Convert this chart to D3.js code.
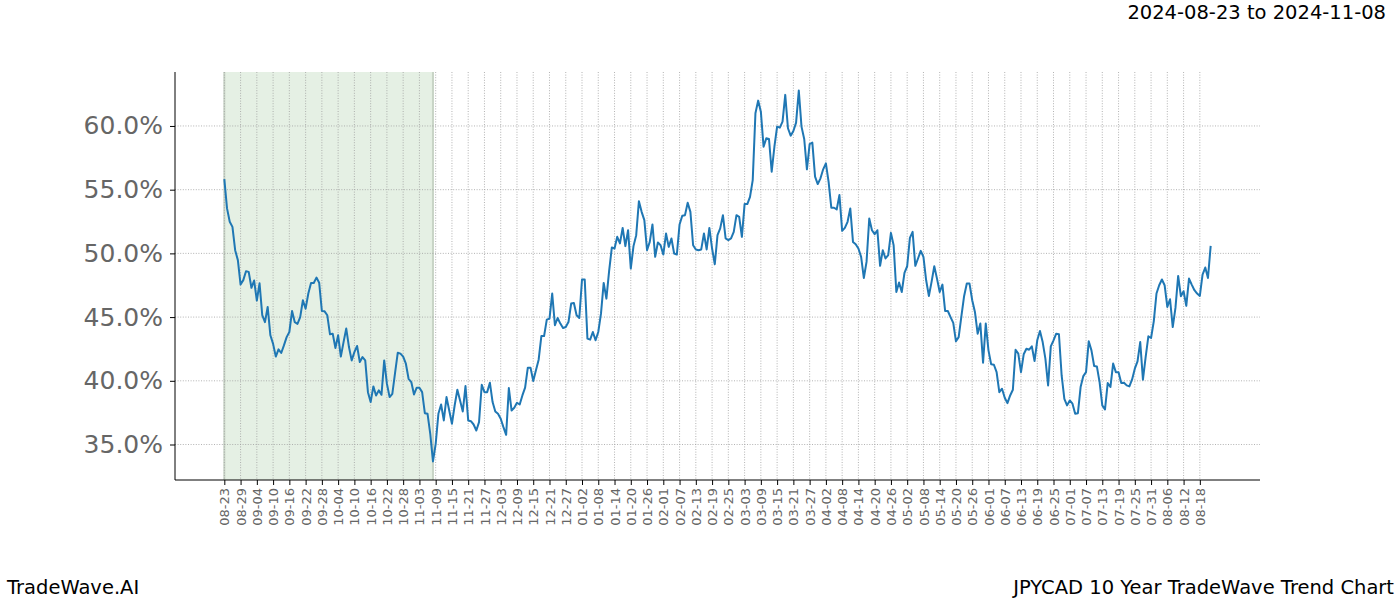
<!DOCTYPE html>
<html>
<head>
<meta charset="utf-8">
<script src="https://cdn.jsdelivr.net/npm/d3@7"></script>
<style>
  body { margin: 0; background: #fff; }
  svg { display: block; font-family: "DejaVu Sans", sans-serif; }
</style>
</head>
<body>
<svg id="chart" width="1400" height="600"></svg>
<script>
// ---- data ----
const startDate = "2024-08-23";
const endDate = "2025-08-22";
const shadeStart = "2024-08-23";
const shadeEnd = "2024-11-08";
const titleText = "2024-08-23 to 2024-11-08";
const brandText = "TradeWave.AI";
const chartName = "JPYCAD 10 Year TradeWave Trend Chart";
const yTicks = [35, 40, 45, 50, 55, 60];
const values = [
55.83,53.53,52.48,52.08,50.25,49.47,47.55,47.9,48.6,48.55,
47.3,47.87,46.3,47.65,45.15,44.6,45.8,43.57,42.9,41.9,
42.47,42.18,42.78,43.43,43.83,45.48,44.6,44.47,45.0,46.32,
45.66,46.85,47.68,47.68,48.1,47.7,45.48,45.45,45.14,43.65,
43.7,42.57,43.57,41.9,43.04,44.1,42.65,41.6,42.25,42.73,
41.47,41.86,41.6,39.11,38.33,39.56,38.85,39.25,38.9,41.6,
39.77,38.72,38.98,40.6,42.2,42.13,41.9,41.34,40.16,39.9,
38.93,39.46,39.46,39.11,37.46,37.41,35.84,33.67,35.05,37.41,
38.14,36.89,38.72,37.67,36.63,38.06,39.3,38.46,37.59,39.59,
36.89,36.83,36.57,36.1,36.76,39.69,39.11,39.11,39.85,38.33,
37.59,37.41,37.02,36.36,35.76,39.43,37.67,37.89,38.28,38.14,
38.85,39.46,41.03,41.03,39.98,40.82,41.66,43.51,43.51,44.8,
44.88,46.85,44.36,44.93,44.49,44.14,44.22,44.61,46.06,46.11,
45.14,44.93,47.95,47.95,43.31,43.23,43.83,43.18,43.83,45.27,
47.68,46.45,48.6,50.46,50.38,51.3,50.78,52.0,50.57,51.82,
48.81,50.57,51.43,54.1,53.26,52.61,50.25,50.9,52.27,49.73,
50.86,50.64,49.91,51.56,50.51,51.17,49.99,49.91,52.27,52.95,
53.0,53.97,53.26,50.64,50.31,50.25,50.31,51.56,50.31,52.0,
50.38,49.15,51.43,51.96,53.0,51.17,51.04,51.17,51.69,53.0,
52.87,51.3,53.87,53.87,54.44,55.75,61.0,61.99,61.12,58.37,
59.03,58.98,56.41,58.37,59.95,59.87,60.34,62.44,59.82,59.24,
59.61,60.26,62.78,59.95,58.98,56.6,58.58,58.69,56.02,55.44,
55.89,56.6,57.07,55.62,53.58,53.58,53.45,54.58,51.77,52.0,
52.48,53.53,50.9,50.72,50.38,49.73,48.07,49.33,52.74,51.82,
51.51,51.82,49.02,50.25,49.6,49.86,51.61,50.64,46.97,47.71,
46.97,48.47,48.99,51.22,51.69,49.02,49.6,50.2,49.73,47.89,
46.66,47.76,48.99,48.02,46.97,47.55,45.48,45.48,45.0,44.54,
43.1,43.43,45.06,46.64,47.63,47.63,46.32,45.4,43.7,44.49,
41.42,44.49,42.39,41.29,41.26,40.68,39.11,39.38,38.67,38.25,
38.85,39.3,42.44,42.13,40.68,42.08,42.52,42.44,42.7,41.55,
43.18,43.91,43.04,41.74,39.64,42.7,43.18,43.7,43.65,40.42,
38.59,38.07,38.46,38.2,37.41,37.46,39.51,40.37,40.68,43.1,
42.39,41.16,41.13,39.9,38.07,37.75,39.82,39.51,41.35,40.68,
40.68,39.82,39.85,39.64,39.56,40.11,40.95,41.53,43.04,40.09,
41.86,43.49,43.36,44.67,46.85,47.5,47.95,47.5,45.8,46.4,
44.22,45.72,48.23,46.64,47.03,45.88,48.02,47.55,47.11,46.85,
46.66,48.34,48.89,48.07,50.59
];

// ---- build ----
const parse = d3.utcParse("%Y-%m-%d");
const t0 = parse(startDate), t1 = parse(endDate);
const dates = d3.utcDay.range(t0, d3.utcDay.offset(t1, 1));
const data = values.map((v, i) => ({ date: dates[i], value: v }));

const svg = d3.select("#chart");
const L = 175, R = 1260, T = 72, B = 480;

// matplotlib-like 5% margins
const span = +t1 - +t0;
const x = d3.scaleUtc()
  .domain([new Date(+t0 - span * 0.05), new Date(+t1 + span * 0.05)])
  .range([L, R]);
const vmin = d3.min(values), vmax = d3.max(values);
const vs = vmax - vmin;
const y = d3.scaleLinear()
  .domain([vmin - vs * 0.05, vmax + vs * 0.05])
  .range([B, T]);

const xTickDates = d3.utcDay.range(t0, d3.utcDay.offset(t1, 1), 1).filter((d, i) => i % 6 === 0);
const fmt = d3.utcFormat("%m-%d");

// shaded band
svg.append("rect")
  .attr("x", x(parse(shadeStart)))
  .attr("y", T)
  .attr("width", x(parse(shadeEnd)) - x(parse(shadeStart)))
  .attr("height", B - T)
  .attr("fill", "#e5f0e4");
[shadeStart, shadeEnd].forEach(s => {
  svg.append("line")
    .attr("x1", x(parse(s))).attr("x2", x(parse(s)))
    .attr("y1", T).attr("y2", B)
    .attr("stroke", "#c8d4c6").attr("stroke-width", 2);
});

// grid
const grid = svg.append("g");
grid.selectAll("line.gx").data(xTickDates).enter().append("line")
  .attr("x1", d => x(d)).attr("x2", d => x(d))
  .attr("y1", T).attr("y2", B)
  .attr("stroke", "#a0a0a0").attr("stroke-width", 0.8)
  .attr("stroke-dasharray", "1,1.6");
grid.selectAll("line.gy").data(yTicks).enter().append("line")
  .attr("x1", L).attr("x2", R)
  .attr("y1", d => y(d)).attr("y2", d => y(d))
  .attr("stroke", "#a0a0a0").attr("stroke-width", 0.8)
  .attr("stroke-dasharray", "1,1.6");

// line
svg.append("path")
  .datum(data)
  .attr("fill", "none")
  .attr("stroke", "#1f77b4")
  .attr("stroke-width", 2)
  .attr("stroke-linejoin", "round")
  .attr("d", d3.line().x(d => x(d.date)).y(d => y(d.value)));

// y axis
const yAxis = svg.append("g")
  .attr("transform", `translate(${L},0)`)
  .call(d3.axisLeft(y).tickValues(yTicks).tickFormat(d => d.toFixed(1) + "%").tickSize(5).tickPadding(7));
yAxis.select(".domain").attr("stroke", "#000").attr("stroke-width", 1).attr("d", `M0,${T}V${B}`);
yAxis.selectAll(".tick line").attr("stroke", "#000");
yAxis.selectAll(".tick text")
  .attr("font-family", "DejaVu Sans, sans-serif")
  .attr("font-size", 25)
  .attr("fill", "#666");

// x axis
const xAxis = svg.append("g")
  .attr("transform", `translate(0,${B})`)
  .call(d3.axisBottom(x).tickValues(xTickDates).tickFormat(fmt).tickSize(5));
xAxis.select(".domain").attr("stroke", "#000").attr("stroke-width", 1).attr("d", `M${L},0H${R}`);
xAxis.selectAll(".tick line").attr("stroke", "#000");
xAxis.selectAll(".tick text")
  .attr("font-family", "DejaVu Sans, sans-serif")
  .attr("font-size", 13)
  .attr("fill", "#666")
  .attr("text-anchor", "end")
  .attr("dy", "0.35em")
  .attr("transform", "translate(0,8) rotate(-90)")
  .attr("x", 0).attr("y", 0);

// texts
svg.append("text")
  .attr("x", 1386).attr("y", 19)
  .attr("text-anchor", "end")
  .attr("font-size", 19.5)
  .attr("fill", "#000")
  .text(titleText);
svg.append("text")
  .attr("x", 7).attr("y", 594)
  .attr("font-size", 19.5)
  .attr("fill", "#000")
  .text(brandText);
svg.append("text")
  .attr("x", 1394).attr("y", 594)
  .attr("text-anchor", "end")
  .attr("font-size", 19.5)
  .attr("fill", "#000")
  .text(chartName);
</script>
</body>
</html>
